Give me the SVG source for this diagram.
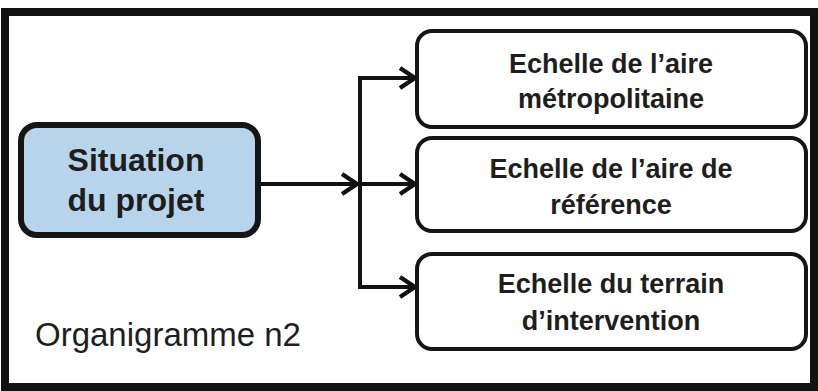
<svg xmlns="http://www.w3.org/2000/svg" width="818" height="391" viewBox="0 0 818 391">
<style>
.frame{fill:#fff;stroke:#111;stroke-width:8}
.box{fill:#fff;stroke:#151515;stroke-width:4}
.main{fill:#b8d4ea;stroke:#151515;stroke-width:6}
.t{font-family:"Liberation Sans",Arial,sans-serif;font-weight:bold;fill:#1e1e1e;text-anchor:middle}
.lbl{font-family:"Liberation Sans",Arial,sans-serif;fill:#1e1e1e;font-size:33px}
.c{fill:none;stroke:#111;stroke-width:4}
</style>
<defs>
<marker id="arr" viewBox="0 0 22 24" refX="20" refY="12" markerWidth="22" markerHeight="24" markerUnits="userSpaceOnUse" orient="auto">
<path d="M5,2 L20,12 L5,22" fill="none" stroke="#111" stroke-width="4.5" stroke-linejoin="miter"/>
</marker>
</defs>
<rect class="frame" x="5" y="12" width="809" height="375"/>
<g id="connectors">
<path class="c" d="M260,184 H357" marker-end="url(#arr)"/>
<path class="c" d="M360,78 V287"/>
<path class="c" d="M358,78 H415" marker-end="url(#arr)"/>
<path class="c" d="M360,184 H415" marker-end="url(#arr)"/>
<path class="c" d="M358,287 H415" marker-end="url(#arr)"/>
</g>
<g id="situation">
<rect class="main" x="21" y="125" width="237" height="110" rx="16"/>
<text class="t" x="136" y="171" font-size="32">Situation</text>
<text class="t" x="136" y="211" font-size="32">du projet</text>
</g>
<g id="metropolitaine">
<rect class="box" x="417" y="31" width="389" height="96" rx="15"/>
<text class="t" x="611" y="73" font-size="27">Echelle de l’aire</text>
<text class="t" x="611" y="108" font-size="27">métropolitaine</text>
</g>
<g id="reference">
<rect class="box" x="417" y="138" width="389" height="93" rx="15"/>
<text class="t" x="611" y="178" font-size="27">Echelle de l’aire de</text>
<text class="t" x="611" y="214" font-size="27">référence</text>
</g>
<g id="terrain">
<rect class="box" x="417" y="254" width="389" height="95" rx="15"/>
<text class="t" x="611" y="293" font-size="27">Echelle du terrain</text>
<text class="t" x="611" y="330" font-size="27">d’intervention</text>
</g>
<text class="lbl" x="35" y="346">Organigramme n2</text>
</svg>
